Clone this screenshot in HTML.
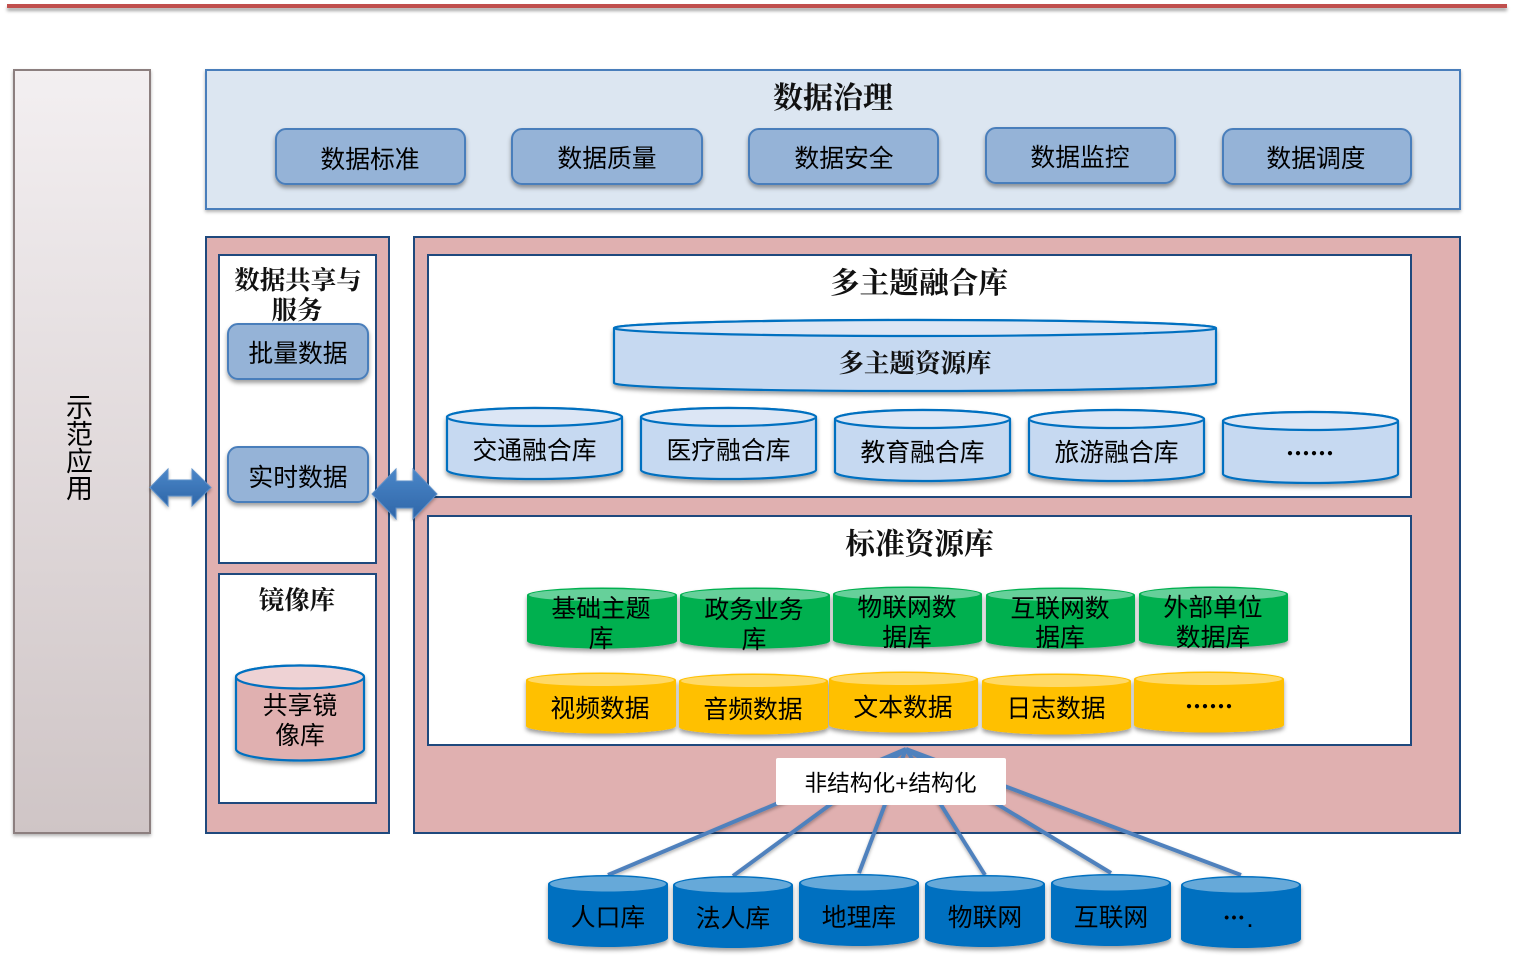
<!DOCTYPE html>
<html><head><meta charset="utf-8">
<style>
html,body{margin:0;padding:0;background:#fff;width:1516px;height:959px;overflow:hidden}
svg{display:block}
text{font-family:"Liberation Sans","Noto Sans CJK SC",sans-serif;fill:#000;text-anchor:middle;font-size:24.8px;font-weight:400}
.t{font-family:"Liberation Serif","Noto Serif CJK SC",serif;font-weight:700;fill:#111}
.d{font-family:"Noto Sans CJK SC",sans-serif;font-weight:900;font-size:24px}
.r{fill:#95b3d7;stroke:#4a7ebb;stroke-width:2}
.c{fill:#c6d9f1;stroke:#0070c0;stroke-width:2.2}.ct{fill:#dce6f5;stroke:#0070c0;stroke-width:2.2}
.g{fill:#00b050}.gt{fill:#66d09a}
.y{fill:#ffc000}.yt{fill:#ffd966}
.b{fill:#0070c0}.bt{fill:#66a9d9}
.p{fill:#e0b0b0;stroke:#1f497d;stroke-width:2}
.w{fill:#fff;stroke:#1f497d;stroke-width:2}
</style></head><body>
<svg width="1516" height="959" viewBox="0 0 1516 959" xmlns="http://www.w3.org/2000/svg">
<defs>
<linearGradient id="lg" x1="0" y1="0" x2="0" y2="1"><stop offset="0" stop-color="#f3eff1"/><stop offset="1" stop-color="#cfc5c6"/></linearGradient>
<linearGradient id="ag" x1="0" y1="0" x2="0" y2="1"><stop offset="0" stop-color="#4a86c8"/><stop offset="1" stop-color="#2f66a8"/></linearGradient>
<filter id="s" x="-10%" y="-20%" width="120%" height="150%"><feDropShadow dx="0" dy="3" stdDeviation="2" flood-color="#000" flood-opacity=".38"/></filter>
<filter id="s2" x="-5%" y="-5%" width="110%" height="110%"><feDropShadow dx="0" dy="2" stdDeviation="1.500" flood-color="#000" flood-opacity=".3"/></filter>
<filter id="s3" filterUnits="userSpaceOnUse" x="0" y="0" width="1516" height="20"><feDropShadow dx="0" dy="3" stdDeviation="1.500" flood-color="#000" flood-opacity=".35"/></filter>
</defs>

<rect x="7" y="4" width="1500" height="4" fill="#c0504d" filter="url(#s3)"/>

<rect x="14" y="70" width="136" height="763" fill="url(#lg)" stroke="#8c7f7f" stroke-width="2" filter="url(#s2)"/>
<text x="79.500" y="417" style="font-size:27px">示</text>
<text x="79.500" y="444" style="font-size:27px">范</text>
<text x="79.500" y="471" style="font-size:27px">应</text>
<text x="79.500" y="498" style="font-size:27px">用</text>

<rect x="206" y="70" width="1254" height="139" fill="#dce6f1" stroke="#4a7ebb" stroke-width="2" filter="url(#s2)"/>
<text class="t" x="833" y="108" style="font-size:30px">数据治理</text>
<g filter="url(#s)">
<rect class="r" x="276" y="129" width="189" height="55" rx="10"/>
<rect class="r" x="512" y="129" width="190" height="55" rx="10"/>
<rect class="r" x="749" y="129" width="189" height="55" rx="10"/>
<rect class="r" x="986" y="128" width="189" height="55" rx="10"/>
<rect class="r" x="1223" y="129" width="188" height="55" rx="10"/>
</g>
<text x="370" y="168">数据标准</text>
<text x="607" y="167">数据质量</text>
<text x="844" y="167">数据安全</text>
<text x="1080" y="166">数据监控</text>
<text x="1316" y="167">数据调度</text>

<rect class="p" x="206" y="237" width="183" height="596"/>
<rect class="w" x="219" y="255" width="157" height="308"/>
<rect class="w" x="219" y="574" width="157" height="229"/>
<text class="t" x="298" y="289" style="font-size:25.500px">数据共享与</text>
<text class="t" x="297" y="319" style="font-size:25.500px">服务</text>
<g filter="url(#s)">
<rect class="r" x="228" y="324" width="140" height="55" rx="10"/>
<rect class="r" x="228" y="447" width="140" height="55" rx="10"/>
</g>
<text x="298" y="362">批量数据</text>
<text x="298" y="486">实时数据</text>
<text class="t" x="297" y="609" style="font-size:25.500px">镜像库</text>
<g filter="url(#s)"><path d="M236,677A64,11.500 0 0 1 364,677V749A64,11.500 0 0 1 236,749Z" fill="#e0b0b0" stroke="#0070c0" stroke-width="2.200"/></g>
<ellipse cx="300" cy="677" rx="64" ry="11.500" fill="#eed2d4" stroke="#0070c0" stroke-width="2.200"/>
<text x="300" y="714">共享镜</text>
<text x="300" y="744">像库</text>

<rect class="p" x="414" y="237" width="1046" height="596"/>
<rect class="w" x="428" y="255" width="983" height="242"/>
<rect class="w" x="428" y="516" width="983" height="229"/>
<text class="t" x="919" y="293" style="font-size:29.700px">多主题融合库</text>
<text class="t" x="919.500" y="554" style="font-size:29.700px">标准资源库</text>

<g filter="url(#s)"><path class="c" d="M614,328A301,8 0 0 1 1216,328V383A301,8 0 0 1 614,383Z"/></g>
<ellipse class="ct" cx="915" cy="328" rx="301" ry="8"/>
<text class="t" x="915" y="372" style="font-size:25.500px">多主题资源库</text>

<g filter="url(#s)">
<path class="c" d="M447,417A87.500,9 0 0 1 622,417V470A87.500,9 0 0 1 447,470Z"/>
<path class="c" d="M641,417A87.500,9 0 0 1 816,417V470A87.500,9 0 0 1 641,470Z"/>
<path class="c" d="M835,419A87.500,9 0 0 1 1010,419V472A87.500,9 0 0 1 835,472Z"/>
<path class="c" d="M1029,419A87.500,9 0 0 1 1204,419V472A87.500,9 0 0 1 1029,472Z"/>
<path class="c" d="M1223,421A87.500,9 0 0 1 1398,421V474A87.500,9 0 0 1 1223,474Z"/>
</g>
<ellipse class="ct" cx="534.500" cy="417" rx="87.500" ry="9"/>
<ellipse class="ct" cx="728.500" cy="417" rx="87.500" ry="9"/>
<ellipse class="ct" cx="922.500" cy="419" rx="87.500" ry="9"/>
<ellipse class="ct" cx="1116.500" cy="419" rx="87.500" ry="9"/>
<ellipse class="ct" cx="1310.500" cy="421" rx="87.500" ry="9"/>
<text x="534.500" y="459">交通融合库</text>
<text x="728.500" y="459">医疗融合库</text>
<text x="922.500" y="461">教育融合库</text>
<text x="1116.500" y="461">旅游融合库</text>
<text class="d" x="1310" y="462">……</text>

<g filter="url(#s)">
<path class="g" d="M527,595A75,7.500 0 0 1 677,595V641A75,7.500 0 0 1 527,641Z"/>
<path class="g" d="M680,595A75,7.500 0 0 1 830,595V641A75,7.500 0 0 1 680,641Z"/>
<path class="g" d="M833,594A74.500,7.500 0 0 1 982,594V640A74.500,7.500 0 0 1 833,640Z"/>
<path class="g" d="M986,595A74.500,7.500 0 0 1 1135,595V641A74.500,7.500 0 0 1 986,641Z"/>
<path class="g" d="M1139,594A74.500,7.500 0 0 1 1288,594V640A74.500,7.500 0 0 1 1139,640Z"/>
<path class="y" d="M526,680A75,7.500 0 0 1 676,680V726A75,7.500 0 0 1 526,726Z"/>
<path class="y" d="M679,681A74.500,7.500 0 0 1 828,681V727A74.500,7.500 0 0 1 679,727Z"/>
<path class="y" d="M829,679A74.500,7.500 0 0 1 978,679V725A74.500,7.500 0 0 1 829,725Z"/>
<path class="y" d="M982,681A74.500,7.500 0 0 1 1131,681V727A74.500,7.500 0 0 1 982,727Z"/>
<path class="y" d="M1134,679A75,7.500 0 0 1 1284,679V725A75,7.500 0 0 1 1134,725Z"/>
</g>
<ellipse class="gt" cx="602" cy="595" rx="73" ry="6"/>
<ellipse class="gt" cx="755" cy="595" rx="73" ry="6"/>
<ellipse class="gt" cx="907.500" cy="594" rx="72.500" ry="6"/>
<ellipse class="gt" cx="1060.500" cy="595" rx="72.500" ry="6"/>
<ellipse class="gt" cx="1213.500" cy="594" rx="72.500" ry="6"/>
<ellipse class="yt" cx="601" cy="680" rx="73" ry="6"/>
<ellipse class="yt" cx="753.500" cy="681" rx="72.500" ry="6"/>
<ellipse class="yt" cx="903.500" cy="679" rx="72.500" ry="6"/>
<ellipse class="yt" cx="1056.500" cy="681" rx="72.500" ry="6"/>
<ellipse class="yt" cx="1209" cy="679" rx="73" ry="6"/>
<text x="601" y="617">基础主题</text><text x="601" y="647">库</text>
<text x="754" y="618">政务业务</text><text x="754" y="648">库</text>
<text x="907" y="616">物联网数</text><text x="907" y="646">据库</text>
<text x="1060" y="617">互联网数</text><text x="1060" y="646">据库</text>
<text x="1213" y="616">外部单位</text><text x="1213" y="646">数据库</text>
<text x="600" y="717">视频数据</text>
<text x="753" y="718">音频数据</text>
<text x="903" y="716">文本数据</text>
<text x="1056" y="717">日志数据</text>
<text class="d" x="1209" y="715">……</text>

<g stroke="#4f81bd" stroke-width="4" fill="none" filter="url(#s2)">
<path d="M906,749L608,875"/>
<path d="M906,749L733,876"/>
<path d="M906,749L859,873"/>
<path d="M906,749L985,875"/>
<path d="M906,749L1111,873"/>
<path d="M906,749L1241,875"/>
</g>
<rect x="776" y="758" width="230" height="47" rx="2" fill="#fff"/>
<text x="890.500" y="791" style="font-size:22.700px">非结构化+结构化</text>

<g filter="url(#s)">
<path class="b" d="M548,884A60,9 0 0 1 668,884V938A60,9 0 0 1 548,938Z"/>
<path class="b" d="M673,885A60,9 0 0 1 793,885V939A60,9 0 0 1 673,939Z"/>
<path class="b" d="M799,883A60,9 0 0 1 919,883V937A60,9 0 0 1 799,937Z"/>
<path class="b" d="M925,884A60,9 0 0 1 1045,884V938A60,9 0 0 1 925,938Z"/>
<path class="b" d="M1051,883A60,9 0 0 1 1171,883V937A60,9 0 0 1 1051,937Z"/>
<path class="b" d="M1181,885A60,9 0 0 1 1301,885V939A60,9 0 0 1 1181,939Z"/>
</g>
<ellipse class="bt" cx="608" cy="884" rx="58" ry="7.500"/>
<ellipse class="bt" cx="733" cy="885" rx="58" ry="7.500"/>
<ellipse class="bt" cx="859" cy="883" rx="58" ry="7.500"/>
<ellipse class="bt" cx="985" cy="884" rx="58" ry="7.500"/>
<ellipse class="bt" cx="1111" cy="883" rx="58" ry="7.500"/>
<ellipse class="bt" cx="1241" cy="885" rx="58" ry="7.500"/>
<text x="608" y="926">人口库</text>
<text x="733" y="927">法人库</text>
<text x="859" y="926">地理库</text>
<text x="985" y="926">物联网</text>
<text x="1111" y="926">互联网</text>
<text class="d" x="1234" y="926" style="font-size:22px">…</text>
<text x="1250" y="927" style="font-weight:700;font-size:18px">.</text>

<g filter="url(#s2)" fill="url(#ag)" stroke="#5b8fc9" stroke-width="1">
<path d="M150,487.500L168,469V480H192V469L211,487.500L192,506V496H168V506Z"/>
<path d="M372,494L396,469V481H413V469L437,494L413,519V508H396V519Z"/>
</g>
</svg>
</body></html>
